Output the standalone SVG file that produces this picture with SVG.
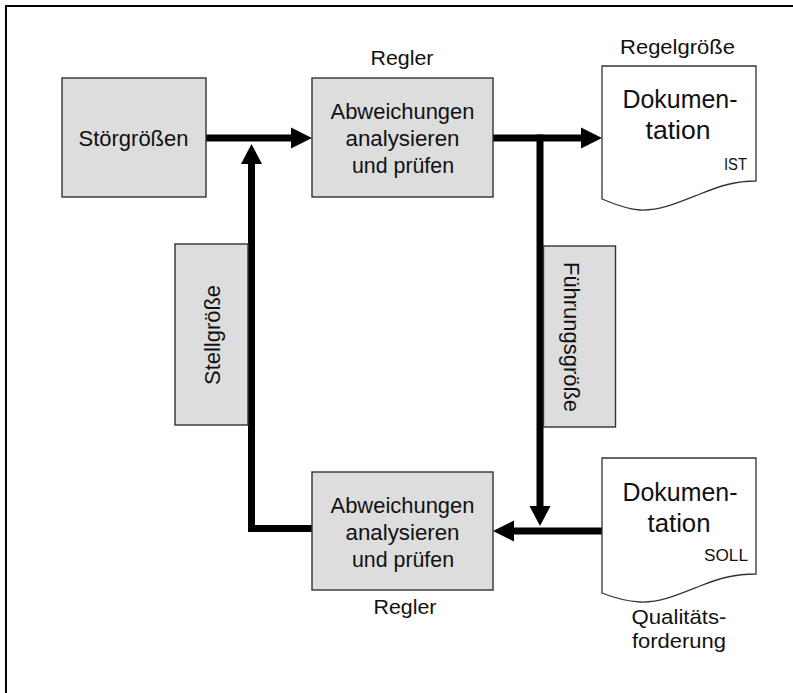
<svg xmlns="http://www.w3.org/2000/svg" width="793" height="693" viewBox="0 0 793 693">
  <style>
    text { font-family: "Liberation Sans", Arial, sans-serif; fill: #111; }
    .box { fill: #dddddd; stroke: #333; stroke-width: 1.4; }
    .doc { fill: #ffffff; stroke: #333; stroke-width: 1.3; }
    .flow { fill: none; stroke: #000; stroke-width: 7; stroke-linejoin: miter; stroke-linecap: butt; }
    .head { fill: #000; stroke: none; }
    .mid { text-anchor: middle; }
    .end { text-anchor: end; }
    .f22 { font-size: 22px; }
    .f21 { font-size: 21px; }
    .f25 { font-size: 25px; }
    .f16 { font-size: 16px; }
  </style>

  <!-- frame -->
  <rect x="6" y="6" width="800" height="700" fill="#ffffff" stroke="#000" stroke-width="2"/>

  <!-- connectors -->
  <g id="connectors">
    <!-- Störgrößen to upper controller -->
    <line class="flow" x1="206" y1="138" x2="292" y2="138"/>
    <polygon class="head" points="312,138 291,127.5 291,148.5"/>
    <!-- upper controller to actual documentation -->
    <line class="flow" x1="493" y1="138" x2="582" y2="138"/>
    <polygon class="head" points="602,138 581,127.5 581,148.5"/>
    <!-- reference branch downwards -->
    <line class="flow" x1="540" y1="134.5" x2="540" y2="507"/>
    <polygon class="head" points="540,526 529.5,506 550.5,506"/>
    <!-- target documentation to lower controller -->
    <line class="flow" x1="602" y1="531" x2="513" y2="531"/>
    <polygon class="head" points="493,531 514,520.5 514,541.5"/>
    <!-- lower controller back up (manipulated variable) -->
    <polyline class="flow" points="312,528.5 251.5,528.5 251.5,163"/>
    <polygon class="head" points="251.5,144 241,164 262,164"/>
  </g>

  <g id="stoergroessen">
    <rect class="box" x="62" y="78" width="144" height="119"/>
    <text class="mid f22" x="133.5" y="146" textLength="110" lengthAdjust="spacingAndGlyphs">Störgrößen</text>
  </g>

  <g id="regler-oben">
    <text class="mid f21" x="402" y="65" textLength="63" lengthAdjust="spacingAndGlyphs">Regler</text>
    <rect class="box" x="312" y="78" width="181" height="119"/>
    <text class="mid f22" x="402.5" y="119" textLength="144" lengthAdjust="spacingAndGlyphs">Abweichungen</text>
    <text class="mid f22" x="402.5" y="146" textLength="114" lengthAdjust="spacingAndGlyphs">analysieren</text>
    <text class="mid f22" x="403" y="173" textLength="102" lengthAdjust="spacingAndGlyphs">und prüfen</text>
  </g>

  <g id="doku-ist">
    <text class="mid f21" x="677.5" y="54" textLength="115" lengthAdjust="spacingAndGlyphs">Regelgröße</text>
    <path class="doc" d="M602,66 L756,66 L756,181 C735,181 720,186 700,194 C680,202 660,211 640,210 C625,209 612,203 602,199 Z"/>
    <text class="mid f25" x="680" y="108" textLength="115" lengthAdjust="spacingAndGlyphs">Dokumen-</text>
    <text class="mid f25" x="678" y="139" textLength="65" lengthAdjust="spacingAndGlyphs">tation</text>
    <text class="end f16" x="747" y="170" textLength="23" lengthAdjust="spacingAndGlyphs">IST</text>
  </g>

  <g id="stellgroesse">
    <rect class="box" x="175" y="244" width="73" height="181"/>
    <text class="mid f22" transform="translate(220,335) rotate(-90)" x="0" y="0" textLength="100" lengthAdjust="spacingAndGlyphs">Stellgröße</text>
  </g>

  <g id="fuehrungsgroesse">
    <rect class="box" x="543.5" y="246" width="72" height="181"/>
    <text class="mid f22" transform="translate(563.5,337) rotate(90)" x="0" y="0" textLength="150" lengthAdjust="spacingAndGlyphs">Führungsgröße</text>
  </g>

  <g id="regler-unten">
    <rect class="box" x="312" y="472" width="181" height="118"/>
    <text class="mid f22" x="402.5" y="513" textLength="144" lengthAdjust="spacingAndGlyphs">Abweichungen</text>
    <text class="mid f22" x="402.5" y="540" textLength="114" lengthAdjust="spacingAndGlyphs">analysieren</text>
    <text class="mid f22" x="403" y="567" textLength="102" lengthAdjust="spacingAndGlyphs">und prüfen</text>
    <text class="mid f21" x="405" y="614" textLength="63" lengthAdjust="spacingAndGlyphs">Regler</text>
  </g>

  <g id="doku-soll">
    <path class="doc" d="M602,458 L756,458 L756,574 C735,574 720,578 700,586 C680,594 660,603 640,602 C625,601 612,597 602,593 Z"/>
    <text class="mid f25" x="680" y="501" textLength="115" lengthAdjust="spacingAndGlyphs">Dokumen-</text>
    <text class="mid f25" x="679" y="532" textLength="63" lengthAdjust="spacingAndGlyphs">tation</text>
    <text class="end f16" x="748" y="561" textLength="44" lengthAdjust="spacingAndGlyphs">SOLL</text>
    <text class="mid f21" x="679" y="624" textLength="95" lengthAdjust="spacingAndGlyphs">Qualitäts-</text>
    <text class="mid f21" x="679" y="648" textLength="94" lengthAdjust="spacingAndGlyphs">forderung</text>
  </g>
</svg>
